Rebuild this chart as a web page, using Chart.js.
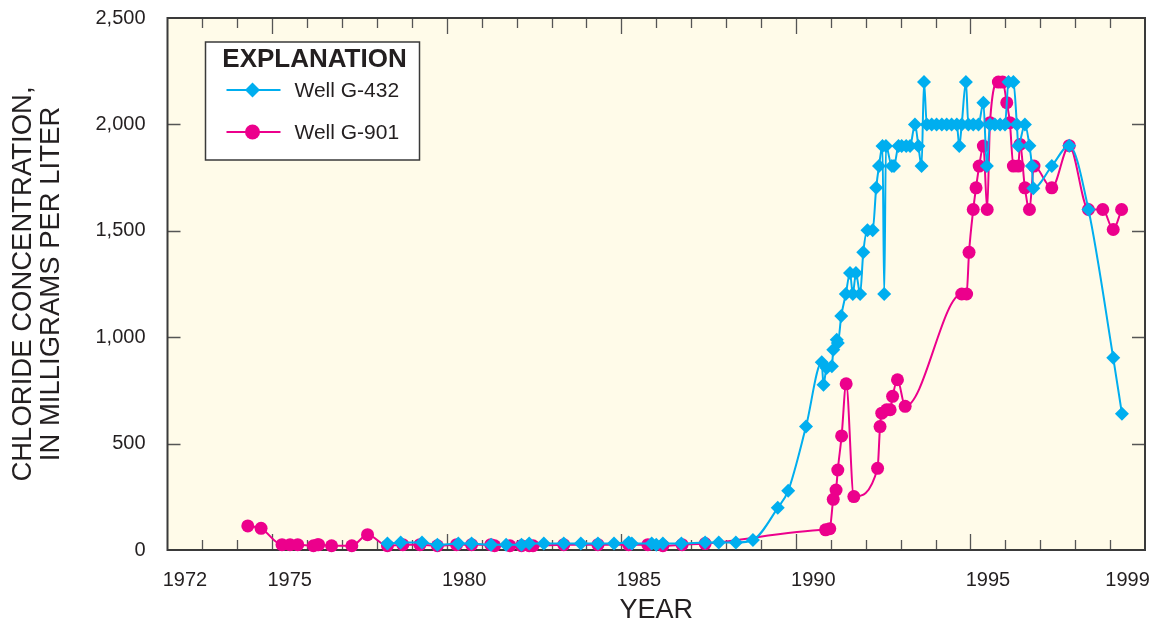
<!DOCTYPE html>
<html lang="en">
<head>
<meta charset="UTF-8">
<title>Chloride concentration, wells G-432 and G-901</title>
<script src="https://cdn.jsdelivr.net/npm/chart.js@4"></script>
<style>
  body { margin: 0; background: #fff; }
</style>
</head>
<body>
<canvas id="canvas" width="1157" height="627"></canvas>
<script>
// Well G-432 (blue diamonds)
const g432Years = [1978.30, 1978.68, 1979.29, 1979.73, 1980.33, 1980.71, 1981.27, 1981.70, 1982.14, 1982.36,
  1982.78, 1983.35, 1983.84, 1984.33, 1984.79, 1985.21, 1985.30, 1985.87, 1986.00, 1986.19,
  1986.72, 1987.40, 1987.79, 1988.28, 1988.77, 1989.48, 1989.78, 1990.29, 1990.74, 1990.79,
  1990.88, 1991.03, 1991.07, 1991.17, 1991.20, 1991.30, 1991.43, 1991.55, 1991.63, 1991.72,
  1991.84, 1991.93, 1992.05, 1992.20, 1992.30, 1992.38, 1992.48, 1992.53, 1992.58, 1992.75,
  1992.81, 1992.94, 1993.03, 1993.16, 1993.27, 1993.41, 1993.51, 1993.60, 1993.67, 1993.75,
  1993.89, 1994.03, 1994.18, 1994.32, 1994.46, 1994.61, 1994.68, 1994.75, 1994.87, 1994.94,
  1995.08, 1995.23, 1995.37, 1995.47, 1995.56, 1995.70, 1995.85, 1995.99, 1996.09, 1996.23,
  1996.33, 1996.37, 1996.56, 1996.69, 1996.76, 1996.80, 1997.33, 1997.83, 1998.38, 1999.09,
  1999.34];
const g432Values = [30, 35, 35, 25, 30, 30, 25, 25, 25, 30,
  30, 30, 30, 30, 30, 35, 30, 30, 25, 30,
  30, 35, 35, 35, 47, 198, 279, 580, 882, 776,
  855, 863, 941, 988, 973, 1100, 1203, 1302, 1203, 1302,
  1203, 1399, 1503, 1503, 1702, 1804, 1898, 1203, 1898, 1804,
  1804, 1898, 1898, 1898, 1898, 2000, 1898, 1804, 2199, 2000,
  2000, 2000, 2000, 2000, 2000, 2000, 1898, 2000, 2199, 2000,
  2000, 2000, 2102, 1804, 2000, 2000, 2000, 2000, 2199, 2199,
  2000, 1900, 2000, 1900, 1804, 1700, 1804, 1900, 1600, 903,
  640];

// Well G-901 (pink circles)
const g901Years = [1974.30, 1974.68, 1975.28, 1975.51, 1975.73, 1976.18, 1976.30, 1976.33, 1976.70, 1977.28,
  1977.73, 1978.30, 1978.74, 1979.23, 1979.73, 1980.28, 1980.71, 1981.26, 1981.37, 1981.81,
  1982.14, 1982.36, 1982.47, 1983.35, 1984.33, 1985.21, 1985.76, 1986.19, 1986.74, 1987.40,
  1990.85, 1990.97, 1991.07, 1991.15, 1991.20, 1991.31, 1991.44, 1991.66, 1992.34, 1992.41,
  1992.46, 1992.60, 1992.70, 1992.77, 1992.91, 1993.13, 1994.75, 1994.89, 1994.96, 1995.08,
  1995.16, 1995.25, 1995.37, 1995.48, 1995.56, 1995.80, 1995.92, 1996.04, 1996.13, 1996.23,
  1996.37, 1996.42, 1996.56, 1996.69, 1996.82, 1997.33, 1997.83, 1998.38, 1998.79, 1999.09,
  1999.33];
const g901Values = [113, 102, 25, 25, 25, 20, 25, 25, 20, 20,
  72, 20, 25, 25, 20, 25, 25, 25, 20, 20,
  20, 20, 20, 25, 25, 25, 25, 20, 25, 30,
  95, 100, 238, 282, 376, 536, 781, 251, 384, 580,
  643, 659, 659, 722, 800, 675, 1203, 1203, 1399, 1600,
  1702, 1804, 1898, 1600, 2008, 2199, 2199, 2102, 2008, 1804,
  1804, 1906, 1702, 1600, 1804, 1702, 1900, 1600, 1600, 1506,
  1600];

const xLabelYears = [1972, 1975, 1980, 1985, 1990, 1995, 1999];
const yTickValues = [0, 500, 1000, 1500, 2000, 2500];

const blue = '#00aeef';
const pink = '#ec008c';
const ink = '#231f20';
const font = 'Liberation Sans, Arial, Helvetica, sans-serif';

function toPoints(xs, ys) {
  return xs.map((v, i) => ({ x: v, y: ys[i] }));
}

// cream plot area, frame and inward tick marks
const framePlugin = {
  id: 'frame',
  beforeDatasetsDraw(chart) {
    const { ctx, chartArea: a, scales: { x, y } } = chart;
    ctx.save();
    ctx.fillStyle = '#fffbe9';
    ctx.fillRect(a.left, a.top, a.right - a.left, a.bottom - a.top);
    ctx.strokeStyle = '#555555';
    ctx.lineWidth = 1.3;
    ctx.beginPath();
    for (let yr = x.min + 1; yr < x.max; yr++) {
      const px = Math.round(x.getPixelForValue(yr)) + 0.5;
      const len = yr % 5 === 0 ? 16 : 10;
      ctx.moveTo(px, a.bottom); ctx.lineTo(px, a.bottom - len);
      ctx.moveTo(px, a.top); ctx.lineTo(px, a.top + len);
    }
    yTickValues.slice(1, -1).forEach(v => {
      const py = Math.round(y.getPixelForValue(v)) + 0.5;
      ctx.moveTo(a.left, py); ctx.lineTo(a.left + 13, py);
      ctx.moveTo(a.right, py); ctx.lineTo(a.right - 13, py);
    });
    ctx.stroke();
    ctx.strokeStyle = '#3a3a3a';
    ctx.lineWidth = 2;
    ctx.strokeRect(a.left, a.top, a.right - a.left, a.bottom - a.top);
    ctx.restore();
  }
};

// "EXPLANATION" box
const explanationPlugin = {
  id: 'explanation',
  afterDraw(chart) {
    const { ctx, chartArea: a } = chart;
    const bx = a.left + 38, by = a.top + 24, bw = 214, bh = 118;
    ctx.save();
    ctx.fillStyle = '#ffffff';
    ctx.fillRect(bx, by, bw, bh);
    ctx.strokeStyle = '#3a3a3a';
    ctx.lineWidth = 1.5;
    ctx.strokeRect(bx, by, bw, bh);

    ctx.fillStyle = ink;
    ctx.textAlign = 'center';
    ctx.textBaseline = 'middle';
    ctx.font = 'bold 26px ' + font;
    ctx.fillText('EXPLANATION', bx + bw / 2 + 2, by + 18);

    chart.data.datasets.forEach((ds, i) => {
      const ly = by + 48 + i * 42;
      ctx.strokeStyle = ds.borderColor;
      ctx.lineWidth = 2;
      ctx.beginPath();
      ctx.moveTo(bx + 21, ly); ctx.lineTo(bx + 75, ly);
      ctx.stroke();
      ctx.fillStyle = ds.pointBackgroundColor;
      ctx.beginPath();
      const cx = bx + 47, r = 7.5;
      if (ds.pointStyle === 'rectRot') {
        ctx.moveTo(cx - r, ly); ctx.lineTo(cx, ly - r); ctx.lineTo(cx + r, ly); ctx.lineTo(cx, ly + r);
        ctx.closePath();
      } else {
        ctx.arc(cx, ly, r, 0, Math.PI * 2);
      }
      ctx.fill();
      ctx.fillStyle = ink;
      ctx.textAlign = 'left';
      ctx.font = '21px ' + font;
      ctx.fillText(ds.label, bx + 89, ly + 1);
    });
    ctx.restore();
  }
};

let ctx = document.getElementById('canvas').getContext('2d');
let config = {
  type: 'line',
  data: {
    datasets: [{
      label: 'Well G-432',
      data: toPoints(g432Years, g432Values),
      borderColor: blue,
      backgroundColor: blue,
      pointBackgroundColor: blue,
      pointStyle: 'rectRot',
      pointRadius: 7,
      pointBorderWidth: 0,
      borderWidth: 2,
      cubicInterpolationMode: 'monotone',
      clip: false
    }, {
      label: 'Well G-901',
      data: toPoints(g901Years, g901Values),
      borderColor: pink,
      backgroundColor: pink,
      pointBackgroundColor: pink,
      pointStyle: 'circle',
      pointRadius: 6.5,
      pointBorderWidth: 0,
      borderWidth: 2,
      cubicInterpolationMode: 'monotone',
      clip: false
    }]
  },
  options: {
    responsive: false,
    animation: false,
    devicePixelRatio: 1,
    layout: { padding: { left: 0, right: 12, top: 18, bottom: 0 } },
    plugins: {
      legend: { display: false },
      tooltip: { enabled: false }
    },
    scales: {
      x: {
        type: 'linear',
        min: 1972,
        max: 2000,
        grid: { display: false, drawTicks: false, tickLength: 0 },
        border: { display: false },
        afterBuildTicks: scale => {
          scale.ticks = xLabelYears.map(v => ({ value: v + 0.5 }));
        },
        afterFit: scale => {
          scale.height = 77;
          scale.paddingLeft = 0;
          scale.paddingRight = 0;
        },
        ticks: {
          autoSkip: false,
          maxRotation: 0,
          padding: 18,
          color: ink,
          font: { family: font, size: 20 },
          callback: v => String(Math.floor(v))
        },
        title: {
          display: true,
          text: 'YEAR',
          color: ink,
          padding: { top: 0, bottom: 0 },
          font: { family: font, size: 27 }
        }
      },
      y: {
        min: 0,
        max: 2500,
        grid: { display: false, drawTicks: false, tickLength: 0 },
        border: { display: false },
        afterBuildTicks: scale => {
          scale.ticks = yTickValues.map(v => ({ value: v }));
        },
        afterFit: scale => {
          scale.width = 167.5;
          scale.paddingTop = 0;
          scale.paddingBottom = 0;
        },
        ticks: {
          padding: 22,
          color: ink,
          font: { family: font, size: 20 },
          callback: v => v.toLocaleString('en-US')
        },
        title: {
          display: true,
          text: ['CHLORIDE CONCENTRATION,', 'IN MILLIGRAMS PER LITER'],
          color: ink,
          padding: { top: 9, bottom: 0 },
          font: { family: font, size: 27.5, lineHeight: 1.02 }
        }
      }
    }
  },
  plugins: [framePlugin, explanationPlugin]
};

let chart = new Chart(ctx, config);
</script>
</body>
</html>
